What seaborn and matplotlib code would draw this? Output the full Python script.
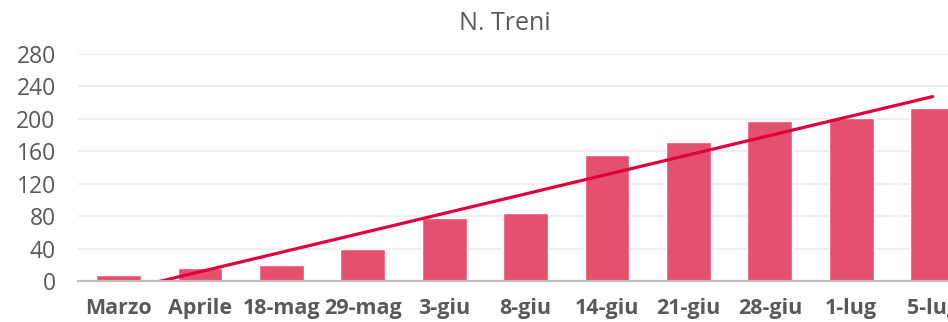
import numpy as np
import pandas as pd
import matplotlib
matplotlib.use("Agg")
import matplotlib.pyplot as plt
import seaborn as sns

# Weekly count of trains
categories = ["Marzo", "Aprile", "18-mag", "29-mag", "3-giu", "8-giu",
              "14-giu", "21-giu", "28-giu", "1-lug", "5-lug"]
treni = [7, 16, 20, 40, 78, 84, 155, 171, 197, 201, 213]
y_ticks = [0, 40, 80, 120, 160, 200, 240, 280]
title = "N. Treni"

BAR = "#E5506E"
TREND = "#E0003C"
TEXT = "#595959"

sns.set_theme(style="white")
plt.rcParams["font.family"] = ["Open Sans", "DejaVu Sans"]

df = pd.DataFrame({"periodo": categories, "treni": treni})

fig = plt.figure(figsize=(9.48, 3.22), dpi=100)
ax = fig.add_axes([0.0822, 0.1273, 0.9445, 0.705])

sns.barplot(data=df, x="periodo", y="treni", color=BAR, width=0.55,
            saturation=1, ax=ax, zorder=2)

# Linear trend line fitted on the bar series
idx = np.arange(len(treni))
slope, intercept = np.polyfit(idx, treni, 1)
trend = pd.DataFrame({"x": idx, "y": slope * idx + intercept})
sns.lineplot(data=trend, x="x", y="y", color=TREND, linewidth=2.3,
             ax=ax, zorder=3)

ax.set_xlim(-0.5, len(categories) - 0.5)
ax.set_ylim(0, 280)
ax.set_yticks(y_ticks)
ax.set_yticklabels([str(v) for v in y_ticks])
ax.yaxis.grid(True, color="#EBEBEB", linewidth=1.2, zorder=0)
ax.set_axisbelow(True)

for s in ["top", "right", "left"]:
    ax.spines[s].set_visible(False)
ax.spines["bottom"].set_color("#BFBFBF")
ax.spines["bottom"].set_linewidth(1.6)
ax.spines["bottom"].set_zorder(4)

ax.tick_params(axis="y", length=0, pad=16, labelsize=16.5, labelcolor=TEXT)
ax.tick_params(axis="x", length=0, pad=12, labelsize=15.5, labelcolor=TEXT)
for lbl in ax.get_xticklabels():
    lbl.set_fontweight("bold")

ax.set_xlabel("")
ax.set_ylabel("")

fig.text(505 / 948, 1 - 24 / 322, title, ha="center", va="center",
         fontsize=18, color=TEXT)

fig.savefig("out.png", dpi=100)
